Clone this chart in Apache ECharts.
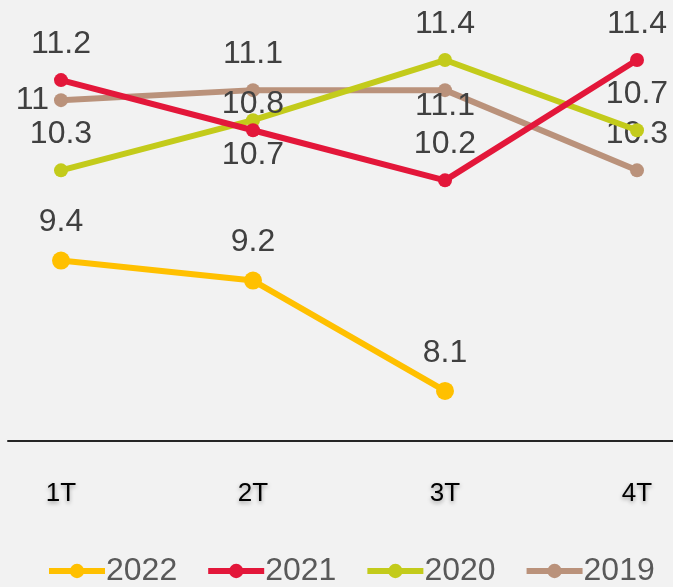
<!DOCTYPE html>
<html>
<head>
<meta charset="utf-8">
<script src="https://cdn.jsdelivr.net/npm/echarts@6/dist/echarts.min.js"></script>
<style>
  html, body { margin: 0; padding: 0; background: #f2f2f2; }
  #chart { width: 673px; height: 587px; }
</style>
</head>
<body>
<div id="chart"></div>
<script>
// 数据
const quarters = ['1T', '2T', '3T', '4T']
const years = ['2022', '2021', '2020', '2019']
const v2022 = [9.4, 9.2, 8.1, null]
const v2021 = [11.2, 10.7, 10.2, 11.4]
const v2020 = [10.3, 10.8, 11.4, 10.7]
const v2019 = [11, 11.1, 11.1, 10.3]

// 标签位置（样式）
const colors = ['#ffc000', '#e3173a', '#c3cb1b', '#ba927b']
const labelPos = [
  ['top', 'top', 'top', 'top'],
  ['top', 'bottom', 'top', 'top'],
  ['top', 'top', 'top', 'top'],
  ['left', 'top', 'bottom', 'top'],
]
const labelDist = [
  [13, 13, 13, 13],
  [13, 2, 13, 13],
  [13, -7, 13, 13],
  [5, 13, -7, 13],
]
const symbolSizes = [18, 14, 14, 14]

const chart = echarts.init(document.getElementById('chart'))

function buildSeries(name, values, i) {
  return {
    name: name,
    type: 'line',
    xAxisIndex: 0,
    yAxisIndex: 0,
    data: values.map((v, j) => ({
      value: v,
      label: { position: labelPos[i][j], distance: labelDist[i][j] },
    })),
    symbol: 'circle',
    symbolSize: symbolSizes[i],
    color: colors[i],
    lineStyle: { width: 6, color: colors[i] },
    itemStyle: { color: colors[i] },
    label: {
      show: true,
      fontSize: 32,
      color: '#404040',
      fontFamily: 'Liberation Sans, Arial, sans-serif',
    },
    emphasis: { disabled: true },
    z: 10 - i,
  }
}

const option = {
  backgroundColor: '#f2f2f2',
  animation: false,
  grid: [
    { left: 61, right: 36, top: 40, bottom: 146 },
    { left: 8, right: 0, top: 40, bottom: 146 },
  ],
  xAxis: [
    {
      type: 'category',
      gridIndex: 0,
      data: quarters,
      boundaryGap: false,
      axisLine: { show: false },
      axisTick: { show: false },
      axisLabel: {
        margin: 40,
        fontSize: 26,
        color: '#000',
        fontFamily: 'Liberation Sans Narrow, Liberation Sans, Arial, sans-serif',
        textShadowColor: 'rgba(0,0,0,0.35)',
        textShadowBlur: 4,
        textShadowOffsetY: 2,
      },
    },
    {
      // 底部横线
      type: 'value',
      gridIndex: 1,
      min: 0,
      max: 1,
      axisLine: { show: true, lineStyle: { color: '#262626', width: 2 } },
      axisTick: { show: false },
      axisLabel: { show: false },
      splitLine: { show: false },
    },
  ],
  yAxis: [
    {
      type: 'value',
      gridIndex: 0,
      min: 7.6,
      max: 11.6,
      show: false,
    },
    {
      type: 'value',
      gridIndex: 1,
      min: 0,
      max: 1,
      show: false,
    },
  ],
  legend: {
    data: years,
    left: 46,
    bottom: 0,
    width: 660,
    padding: 0,
    itemGap: 28,
    itemWidth: 56,
    itemHeight: 18,
    lineStyle: { width: 6 },
    textStyle: {
      fontSize: 32,
      color: '#595959',
      fontFamily: 'Liberation Sans, Arial, sans-serif',
      padding: [0, 0, 0, -4],
    },
  },
  series: [
    buildSeries(years[0], v2022, 0),
    buildSeries(years[1], v2021, 1),
    buildSeries(years[2], v2020, 2),
    buildSeries(years[3], v2019, 3),
  ],
}

chart.setOption(option)
</script>
</body>
</html>
